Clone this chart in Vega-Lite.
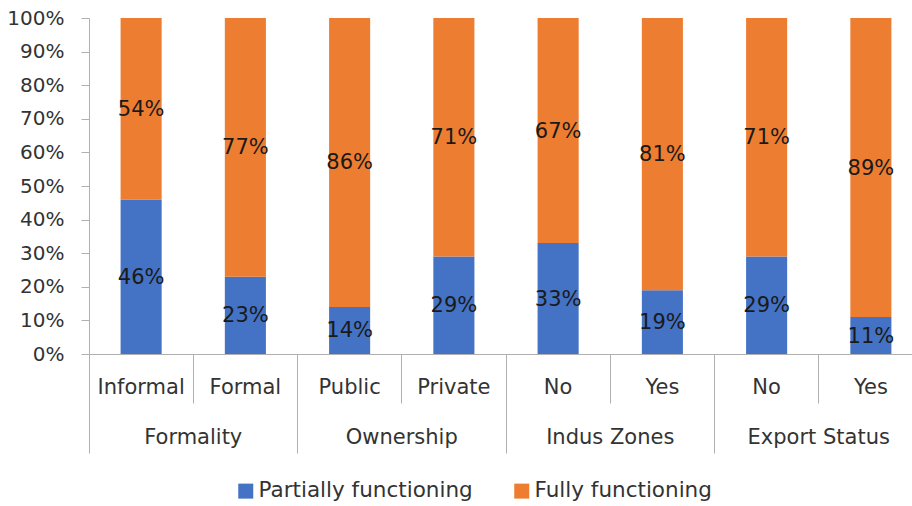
{
  "$schema": "https://vega.github.io/schema/vega-lite/v6.json",
  "autosize": {"type": "none"},
  "padding": {"left": 89, "top": 18, "right": 0, "bottom": 152},
  "width": 823,
  "height": 336,
  "config": {
    "view": {"stroke": null},
    "font": "DejaVu Sans",
    "axis": {"labelFont": "DejaVu Sans", "labelColor": "#333333", "domainColor": "#b0b0b0", "tickColor": "#b0b0b0", "grid": false, "title": null}
  },
  "datasets": {
    "shares": [
      {"id": "Formality|Informal", "group": "Formality", "status": "Partially functioning", "value": 0.46},
      {"id": "Formality|Informal", "group": "Formality", "status": "Fully functioning", "value": 0.54},
      {"id": "Formality|Formal", "group": "Formality", "status": "Partially functioning", "value": 0.23},
      {"id": "Formality|Formal", "group": "Formality", "status": "Fully functioning", "value": 0.77},
      {"id": "Ownership|Public", "group": "Ownership", "status": "Partially functioning", "value": 0.14},
      {"id": "Ownership|Public", "group": "Ownership", "status": "Fully functioning", "value": 0.86},
      {"id": "Ownership|Private", "group": "Ownership", "status": "Partially functioning", "value": 0.29},
      {"id": "Ownership|Private", "group": "Ownership", "status": "Fully functioning", "value": 0.71},
      {"id": "Indus Zones|No", "group": "Indus Zones", "status": "Partially functioning", "value": 0.33},
      {"id": "Indus Zones|No", "group": "Indus Zones", "status": "Fully functioning", "value": 0.67},
      {"id": "Indus Zones|Yes", "group": "Indus Zones", "status": "Partially functioning", "value": 0.19},
      {"id": "Indus Zones|Yes", "group": "Indus Zones", "status": "Fully functioning", "value": 0.81},
      {"id": "Export Status|No", "group": "Export Status", "status": "Partially functioning", "value": 0.29},
      {"id": "Export Status|No", "group": "Export Status", "status": "Fully functioning", "value": 0.71},
      {"id": "Export Status|Yes", "group": "Export Status", "status": "Partially functioning", "value": 0.11},
      {"id": "Export Status|Yes", "group": "Export Status", "status": "Fully functioning", "value": 0.89}
    ]
  },
  "data": {"name": "shares"},
  "layer": [
    {
      "encoding": {
        "x": {
          "field": "id", "type": "nominal",
          "sort": ["Formality|Informal", "Formality|Formal", "Ownership|Public", "Ownership|Private", "Indus Zones|No", "Indus Zones|Yes", "Export Status|No", "Export Status|Yes"],
          "scale": {"type": "band", "range": [0, 834], "paddingInner": 0, "paddingOuter": 0},
          "axis": {
            "orient": "bottom", "labelAngle": 0, "bandPosition": 0,
            "labelExpr": "split(datum.value, '|')[1]",
            "tickSize": 49, "labelPadding": -27, "labelFontSize": 21
          }
        },
        "y": {
          "field": "value", "type": "quantitative", "stack": "zero",
          "scale": {"domain": [0, 1]},
          "axis": {"values": [0, 0.1, 0.2, 0.3, 0.4, 0.5, 0.6, 0.7, 0.8, 0.9, 1], "format": ".0%", "tickSize": 8, "labelPadding": 17, "labelFontSize": 20, "labelOverlap": false}
        },
        "order": {"field": "status", "sort": "descending"}
      },
      "layer": [
        {
          "mark": {"type": "bar", "width": {"band": 0.394}},
          "encoding": {
            "color": {
              "field": "status", "type": "nominal",
              "scale": {"domain": ["Partially functioning", "Fully functioning"], "range": ["#4472C4", "#ED7D31"]},
              "legend": {
                "title": null, "orient": "none", "direction": "horizontal", "legendX": 146, "legendY": 462,
                "symbolType": "square", "symbolSize": 225, "symbolStrokeWidth": 0, "padding": 0,
                "labelFontSize": 21.5, "labelFont": "DejaVu Sans", "labelColor": "#333333", "labelOffset": 2,
                "labelLimit": 400, "columnPadding": 38
              }
            }
          }
        },
        {
          "mark": {"type": "text", "fontSize": 21, "color": "#1a1a1a", "dy": 1},
          "encoding": {
            "y": {"field": "value", "type": "quantitative", "stack": "zero", "bandPosition": 0.5},
            "text": {"field": "value", "type": "quantitative", "format": ".0%"}
          }
        }
      ]
    },
    {
      "mark": {"type": "text", "text": ""},
      "encoding": {
        "x": {
          "field": "group", "type": "nominal",
          "sort": ["Formality", "Ownership", "Indus Zones", "Export Status"],
          "scale": {"type": "band", "range": [0, 834], "paddingInner": 0, "paddingOuter": 0},
          "axis": {"orient": "bottom", "labelAngle": 0, "bandPosition": 0, "domain": false, "tickSize": 99, "labelPadding": -27, "labelFontSize": 21}
        }
      }
    }
  ],
  "resolve": {"scale": {"x": "independent"}, "axis": {"x": "independent"}}
}
